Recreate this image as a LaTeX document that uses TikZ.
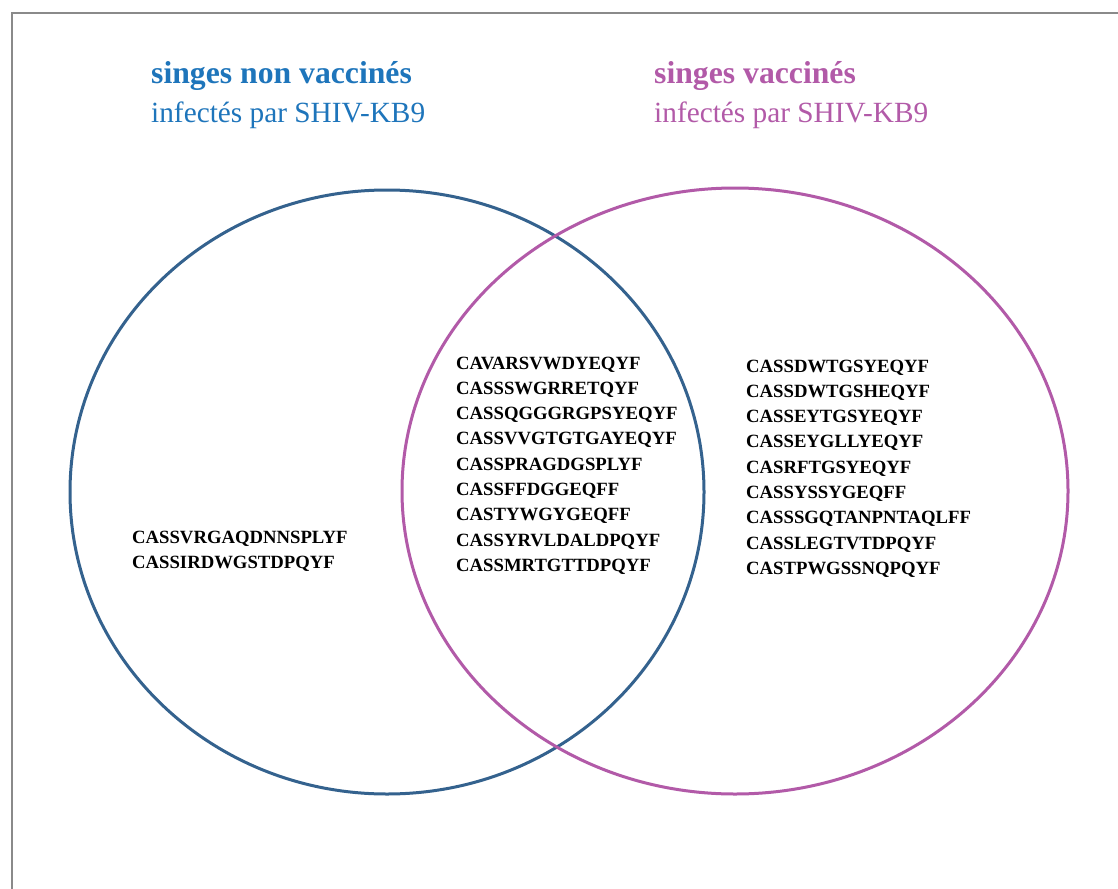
\documentclass[tikz,border=0pt]{standalone}
\usepackage{fontspec}
\setmainfont{Liberation Serif}
\definecolor{circblue}{HTML}{34628E}
\definecolor{titleblue}{HTML}{1E75BB}
\definecolor{vpink}{HTML}{B25AA8}
\definecolor{framegray}{HTML}{8A8A8A}
\tikzset{
  seq/.style={anchor=base west, inner sep=0pt, font=\bfseries\fontsize{18.7}{22}\selectfont, text=black},
  titlebold/.style={anchor=base west, inner sep=0pt, font=\bfseries\fontsize{31.7}{36}\selectfont},
  titlereg/.style={anchor=base west, inner sep=0pt, font=\fontsize{29.3}{34}\selectfont},
  venn/.style={line width=3pt}
}
\begin{document}
\begin{tikzpicture}[x=1pt,y=-1pt]
\useasboundingbox (0,0) rectangle (1118,888);
\fill[white] (0,0) rectangle (1118,888);
\draw[framegray, line width=2.2pt] (12,890) -- (12,13) -- (1120,13);
% titles
\node[titlebold, text=titleblue] (t1) at (151,83.5) {singes non vaccinés};
\node[titlereg, text=titleblue] (t2) at (151,122.5) {infectés par SHIV-KB9};
\node[titlebold, text=vpink] (t3) at (654,83.5) {singes vaccinés};
\node[titlereg, text=vpink] (t4) at (654,122.5) {infectés par SHIV-KB9};
% circles
\draw[venn, circblue] (387,492) ellipse [x radius=317, y radius=302];
\draw[venn, vpink] (735,491) ellipse [x radius=333, y radius=303];
% left list
\foreach \s [count=\i from 0] in {CASSVRGAQDNNSPLYF,CASSIRDWGSTDPQYF}
  \node[seq] (l\i) at (132,543+25.3*\i) {\s};
% middle list
\foreach \s [count=\i from 0] in {CAVARSVWDYEQYF,CASSSWGRRETQYF,CASSQGGGRGPSYEQYF,CASSVVGTGTGAYEQYF,CASSPRAGDGSPLYF,CASSFFDGGEQFF,CASTYWGYGEQFF,CASSYRVLDALDPQYF,CASSMRTGTTDPQYF}
  \node[seq] (m\i) at (456,369+25.3*\i) {\s};
% right list
\foreach \s [count=\i from 0] in {CASSDWTGSYEQYF,CASSDWTGSHEQYF,CASSEYTGSYEQYF,CASSEYGLLYEQYF,CASRFTGSYEQYF,CASSYSSYGEQFF,CASSSGQTANPNTAQLFF,CASSLEGTVTDPQYF,CASTPWGSSNQPQYF}
  \node[seq] (r\i) at (746,372+25.3*\i) {\s};
\end{tikzpicture}
\end{document}
